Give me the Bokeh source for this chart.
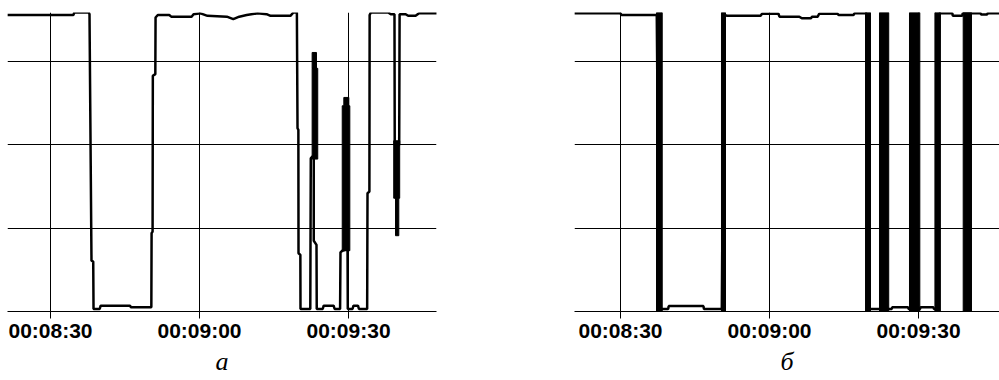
from bokeh.plotting import figure
from bokeh.layouts import row
from bokeh.models import FixedTicker, Grid, Range1d
from bokeh.embed import file_html
from bokeh.resources import INLINE

# ---- axes / ticks ----
tick_seconds = [510, 540, 570]
tick_labels = ["00:08:30", "00:09:00", "00:09:30"]
level_ticks = [0, 1, 2, 3]
level_top = 3.59

# ---- panel "а": measured signal (time in s, level) ----
t_a = [501.3, 514.6, 514.8, 517.7, 517.85, 518.25, 518.6, 518.66, 519.9, 520.1,
       526.0, 526.2, 530.3, 530.35, 530.55, 530.6, 531.1, 531.15, 531.6, 533.9,
       534.3, 538.4, 538.8, 540.2, 541.6, 545.5, 546.8, 548.0, 549.5, 551.7,
       553.5, 554.3, 558.3, 558.9, 559.6, 559.73, 559.9, 559.93, 560.3, 560.33,
       562.3, 562.4, 562.7, 563.0, 563.0, 563.55, 563.6, 564.8, 565.0, 567.0,
       567.2, 568.3, 568.38, 568.75, 569.8, 569.85, 570.8, 571.0, 571.9, 572.1,
       573.75, 573.82, 574.2, 574.25, 574.5, 578.0, 578.5, 579.25, 579.3, 580.2,
       580.28, 581.5, 582.0, 583.5, 584.2, 587.8]
v_a = [3.56, 3.56, 3.59, 3.59, 3.57, 0.61, 0.60, 0.03, 0.03, 0.07,
       0.07, 0.05, 0.05, 0.94, 0.96, 2.83, 2.85, 3.53, 3.56, 3.56,
       3.54, 3.54, 3.57, 3.58, 3.55, 3.54, 3.51, 3.54, 3.56, 3.58,
       3.57, 3.55, 3.55, 3.59, 3.59, 2.20, 2.18, 0.70, 0.68, 0.03,
       0.03, 1.84, 1.86, 1.86, 0.85, 0.80, 0.03, 0.03, 0.07, 0.07,
       0.03, 0.03, 0.71, 0.73, 0.75, 0.03, 0.03, 0.07, 0.07, 0.03,
       0.03, 1.42, 1.44, 3.56, 3.59, 3.59, 3.57, 3.57, 2.00, 2.00,
       3.57, 3.57, 3.55, 3.55, 3.58, 3.58]
# dense oscillation bands in panel "а"
band_a_left = [562.67, 562.67, 568.73, 569.05, 579.1, 579.46]
band_a_right = [563.55, 563.8, 570.26, 570.06, 580.3, 580.12]
band_a_bottom = [2.92, 1.83, 0.73, 2.47, 1.36, 0.91]
band_a_top = [3.11, 2.92, 2.47, 2.57, 2.05, 1.36]

# ---- panel "б": processed signal ----
t_b = [500.7, 510.0, 510.2, 517.3, 517.8, 519.6, 519.7, 526.7, 526.8, 530.4,
       530.8, 531.5, 538.2, 538.5, 541.8, 542.0, 546.0, 546.5, 548.3, 548.6,
       549.7, 550.0, 553.7, 553.9, 556.9, 557.1, 559.5, 559.8, 562.5, 563.5,
       564.6, 564.7, 567.9, 568.0, 568.5, 570.3, 570.4, 573.0, 573.1, 573.6,
       574.2, 576.8, 576.9, 578.8, 578.9, 580.7, 582.5, 582.6, 583.8, 583.9,
       586.5]
v_b = [3.58, 3.58, 3.56, 3.56, 0.03, 0.03, 0.065, 0.065, 0.03, 0.03,
       3.56, 3.55, 3.55, 3.575, 3.575, 3.54, 3.54, 3.52, 3.52, 3.54,
       3.54, 3.575, 3.575, 3.56, 3.56, 3.58, 3.58, 0.03, 0.03, 0.03,
       0.03, 0.05, 0.05, 0.03, 0.03, 0.03, 0.05, 0.05, 0.03, 0.03,
       3.58, 3.58, 3.55, 3.55, 3.58, 3.58, 3.58, 3.565, 3.565, 3.58,
       3.58]
bar_b_left = [517.25, 530.33, 559.33, 562.14, 568.18, 573.3, 578.99]
bar_b_right = [518.4, 531.14, 560.33, 564.0, 570.26, 574.4, 580.66]
bar_b_bottom = [0, 0, 0, 0, 0, 0, 0]
bar_b_top = [3.59, 3.59, 3.59, 3.59, 3.59, 3.59, 3.59]


def make_panel(x0, x1, caption, fw, left_border, right_border):
    p = figure(frame_width=fw, frame_height=299, output_backend="svg",
               toolbar_location=None, y_axis_location=None,
               x_range=Range1d(x0, x1), y_range=Range1d(0, level_top),
               min_border_left=left_border, min_border_right=right_border,
               min_border_top=12, min_border_bottom=0)
    p.outline_line_color = None
    p.background_fill_color = "white"
    p.border_fill_color = "white"
    for g in p.grid:
        g.visible = False
    p.add_layout(Grid(dimension=0, ticker=FixedTicker(ticks=tick_seconds),
                      grid_line_color="black", grid_line_width=1))
    p.add_layout(Grid(dimension=1, ticker=FixedTicker(ticks=level_ticks + [level_top]),
                      grid_line_color="black", grid_line_width=1))
    ax = p.xaxis[0]
    ax.ticker = FixedTicker(ticks=tick_seconds)
    ax.major_label_overrides = dict(zip(tick_seconds, tick_labels))
    ax.axis_line_color = "black"
    ax.major_tick_line_color = "black"
    ax.major_tick_in = 0
    ax.major_tick_out = 7
    ax.minor_tick_line_color = None
    ax.major_label_text_font = "Liberation Sans"
    ax.major_label_text_font_style = "bold"
    ax.major_label_text_font_size = "21px"
    ax.major_label_text_color = "black"
    ax.major_label_standoff = 0
    ax.axis_label = caption
    ax.axis_label_text_font = "Liberation Serif"
    ax.axis_label_text_font_style = "italic"
    ax.axis_label_text_font_size = "26px"
    ax.axis_label_text_color = "black"
    ax.axis_label_standoff = 2
    return p


pa = make_panel(501.34, 587.71, "а", 429, 7, 69)
pa.line(t_a, v_a, line_color="black", line_width=2.5)
pa.quad(left=band_a_left, right=band_a_right, bottom=band_a_bottom, top=band_a_top,
        fill_color="black", line_color="black", line_width=1)

pb = make_panel(500.74, 586.3, "б", 425, 69, 0)
pb.line(t_b, v_b, line_color="black", line_width=2.5)
pb.quad(left=bar_b_left, right=bar_b_right, bottom=bar_b_bottom, top=bar_b_top,
        fill_color="black", line_color="black", line_width=1)

layout = row(pa, pb)
open("out.html", "w").write(file_html(layout, INLINE))
